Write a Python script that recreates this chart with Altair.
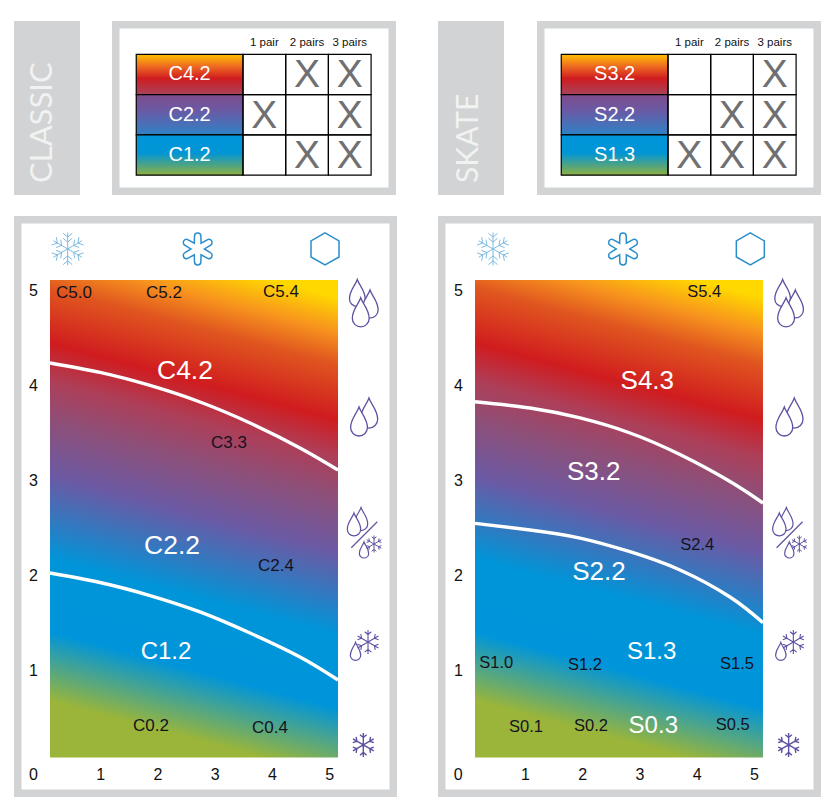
import math
import altair as alt
import pandas as pd

FONT = "Liberation Sans"
GREY = "#D1D3D4"
PURPLE = "#5F51A0"
BLUE = "#2B8ECB"
ICE = "#6FB3DE"

# ---------- wax tables ----------
table_classic_waxes = ["C4.2", "C2.2", "C1.2"]
table_classic_marks = [[0, 1, 1], [1, 0, 1], [0, 1, 1]]
table_skate_waxes = ["S3.2", "S2.2", "S1.3"]
table_skate_marks = [[0, 0, 1], [0, 1, 1], [1, 1, 1]]
pair_labels = ["1 pair", "2 pairs", "3 pairs"]

# ---------- charts: (label, x, y, font size, colour key) ----------
classic_labels = [
    ("C5.0", 0.541, 4.968, 17, "k"), ("C5.2", 2.114, 4.968, 17, "k"), ("C5.4", 4.157, 4.979, 17, "k"),
    ("C4.2", 2.48, 4.147, 26.5, "w"), ("C3.3", 3.249, 3.389, 17, "k"), ("C2.2", 2.253, 2.305, 26.5, "w"),
    ("C2.4", 4.07, 2.095, 17, "k"), ("C1.2", 2.148, 1.189, 24, "w"), ("C0.2", 1.886, 0.411, 17, "k"),
    ("C0.4", 3.965, 0.389, 17, "k"),
]
skate_labels = [
    ("S5.4", 4.132, 4.982, 16.5, "k"), ("S4.3", 3.136, 4.045, 26, "w"), ("S3.2", 2.2, 3.081, 26, "w"),
    ("S2.4", 4.01, 2.316, 16.5, "k"), ("S2.2", 2.293, 2.028, 26, "w"), ("S1.3", 3.213, 1.186, 24, "w"),
    ("S1.0", 0.499, 1.07, 16.5, "k"), ("S1.2", 2.048, 1.056, 16.5, "k"), ("S1.5", 4.703, 1.063, 16.5, "k"),
    ("S0.1", 1.017, 0.403, 16.5, "k"), ("S0.2", 2.153, 0.414, 16.5, "k"), ("S0.3", 3.241, 0.414, 24, "w"),
    ("S0.5", 4.628, 0.421, 16.5, "k"),
]

classic_curve_x = [0.122, 0.995, 1.869, 2.742, 3.616, 4.489, 5.153]
classic_upper_y = [4.232, 4.132, 3.995, 3.821, 3.6, 3.337, 3.105]
classic_lower_y = [2.021, 1.921, 1.784, 1.611, 1.389, 1.137, 0.895]
skate_curve_x = [0.127, 1.087, 1.961, 2.834, 3.707, 4.581, 5.157]
skate_upper_y = [3.824, 3.758, 3.653, 3.495, 3.268, 2.984, 2.758]
skate_lower_y = [2.544, 2.474, 2.389, 2.245, 2.053, 1.768, 1.498]

x_ticks = [0, 1, 2, 3, 4, 5]
y_ticks = [1, 2, 3, 4, 5]


# ---------- icon outlines in a -1..1 box ----------
def drop_path():
    return "M0,-1C.15,-.55 .58,-.2 .58,.42A.58,.58 0 1 1 -.58,.42C-.58,-.2 -.15,-.55 0,-1Z"


def flake_path(branches=(0.62,)):
    p = ""
    for k in range(6):
        a = math.radians(90 + 60 * k)
        p += f"M0,0L{math.cos(a):.3f},{-math.sin(a):.3f}"
        for b in branches:
            bx, by = b * math.cos(a), -b * math.sin(a)
            for s in (-1, 1):
                c = a + s * math.radians(50)
                p += f"M{bx:.3f},{by:.3f}L{bx + .36 * math.cos(c):.3f},{by - .36 * math.sin(c):.3f}"
    return p


def flower_path():
    p, rt, c0, rn = "", 0.2, 0.8, 0.42
    for k in range(6):
        a = math.radians(90 - 60 * k)
        n = math.radians(90 - 60 * k + 30)
        cx, cy = c0 * math.cos(a), -c0 * math.sin(a)
        px, py = math.sin(a), math.cos(a)
        sx, sy = cx - rt * px, cy - rt * py
        ex, ey = cx + rt * px, cy + rt * py
        nx, ny = rn * math.cos(n), -rn * math.sin(n)
        p += ("M" if k == 0 else "L") + f"{nx:.3f},{ny:.3f}"
        p += f"L{sx:.3f},{sy:.3f}A{rt},{rt} 0 1 1 {ex:.3f},{ey:.3f}"
    return p + "Z"


HEX = "M0,-1L.875,-.5L.875,.5L0,1L-.875,.5L-.875,-.5Z"
SLASH = "M1,-1L-1,1"
DROP = drop_path()
FLAKE = flake_path()
SNOW = flake_path((0.42, 0.72))
FLOWER = flower_path()

# kind, x, y, box size, colour, line width (drawn in this order)
icons = [
    (SNOW, 0.431, 5.432, 33, ICE, 0.9), (FLOWER, 2.702, 5.432, 32, BLUE, 1.5), (HEX, 4.926, 5.432, 32, BLUE, 1.5),
    (DROP, 5.49, 4.968, 27, PURPLE, 1.3), (DROP, 5.712, 4.853, 28, PURPLE, 1.3), (DROP, 5.55, 4.765, 29, PURPLE, 1.3),
    (DROP, 5.694, 3.705, 30, PURPLE, 1.3), (DROP, 5.52, 3.616, 29, PURPLE, 1.3),
    (DROP, 5.555, 2.589, 23, PURPLE, 1.2), (DROP, 5.432, 2.532, 23, PURPLE, 1.2), (SLASH, 5.612, 2.424, 26, PURPLE, 1.2),
    (DROP, 5.607, 2.263, 16, PURPLE, 1.2), (FLAKE, 5.782, 2.326, 17, PURPLE, 1.0),
    (DROP, 5.459, 1.195, 18, PURPLE, 1.2), (FLAKE, 5.677, 1.295, 24, PURPLE, 1.1),
    (FLAKE, 5.595, 0.211, 24, PURPLE, 1.4),
]

# ---------- gradients ----------
FIELD_STOPS = [
    (0.047, "#9AB53A"), (0.178, "#0095DA"), (0.318, "#0095D8"), (0.473, "#6A5AA5"), (0.582, "#8E4F78"),
    (0.658, "#AE3E58"), (0.729, "#D01C1F"), (0.835, "#E0561F"), (0.895, "#F7931E"), (0.962, "#FFD800"),
]


def grad(stops, x1=0.0, y1=0.0, x2=0.0, y2=1.0):
    return alt.Gradient(
        gradient="linear", x1=x1, y1=y1, x2=x2, y2=y2,
        stops=[alt.GradientStop(offset=o, color=c) for o, c in stops],
    )


FIELD = grad(FIELD_STOPS, 0.42, 1.0, 0.592, -0.07)
SWATCHES = [
    grad([(0, "#FFC000"), (0.3, "#EE6A22"), (0.6, "#D01C1F"), (1, "#A8435C")]),
    grad([(0, "#7E4B8B"), (0.4, "#6A5AA5"), (1, "#2E82C6")]),
    grad([(0, "#0095DA"), (0.45, "#0095D5"), (1, "#8FB040")]),
]


def frame(w, h):
    return alt.Chart(pd.DataFrame({"a": [0]})).mark_rect(fill="white", stroke=GREY, strokeWidth=7.5).encode(
        x=alt.value(3.75), x2=alt.value(w - 3.75), y=alt.value(3.75), y2=alt.value(h - 3.75)
    )


def sidebar(label, x_pos, size):
    base = alt.Chart(pd.DataFrame({"label": [label]}))
    bg = base.mark_rect(fill=GREY).encode(x=alt.value(0), x2=alt.value(66), y=alt.value(0), y2=alt.value(174))
    txt = base.mark_text(font="Lato", fontSize=size, angle=270, align="left", baseline="middle",
                         color="#F1F2F2").encode(text="label:N", x=alt.value(x_pos), y=alt.value(162))
    return (bg + txt).properties(width=66, height=174)


def table(waxes, marks):
    W, H = 284, 174
    xs = alt.Scale(domain=[-131 / 42.7, (W - 131) / 42.7], range=[0, W], nice=False, zero=False)
    ys = alt.Scale(domain=[-33.3 / 40.3, (H - 33.3) / 40.3], range=[0, H], nice=False, zero=False)
    X = lambda f: alt.X(f, type="quantitative", scale=xs, axis=None)
    Y = lambda f: alt.Y(f, type="quantitative", scale=ys, axis=None)
    layers = [frame(W, H)]
    for r, wax in enumerate(waxes):
        d = pd.DataFrame({"x": [-2.5], "x2": [0], "y": [r], "y2": [r + 1], "wax": [wax]})
        layers.append(alt.Chart(d).mark_rect(fill=SWATCHES[r], stroke="black", strokeWidth=1.2).encode(
            x=X("x"), x2="x2", y=Y("y"), y2="y2"))
        layers.append(alt.Chart(d).mark_text(font=FONT, fontSize=20, color="white").encode(
            x=alt.X("xc:Q", scale=xs, axis=None), y=alt.Y("yc:Q", scale=ys, axis=None), text="wax:N"
        ).transform_calculate(xc="-1.25", yc="datum.y + 0.5"))
    cells = pd.DataFrame([{"x": c, "x2": c + 1, "y": r, "y2": r + 1, "v": marks[r][c]}
                          for r in range(3) for c in range(3)])
    layers.append(alt.Chart(cells).mark_rect(fill="transparent", stroke="black", strokeWidth=1.2).encode(
        x=X("x"), x2="x2", y=Y("y"), y2="y2"))
    layers.append(alt.Chart(cells[cells.v == 1]).transform_calculate(
        xc="datum.x + 0.5", yc="datum.y + 0.5", t="'X'"
    ).mark_text(font=FONT, fontSize=39, color="#707072", dy=1).encode(
        x=alt.X("xc:Q", scale=xs, axis=None), y=alt.Y("yc:Q", scale=ys, axis=None), text="t:N"))
    head = pd.DataFrame({"x": [0.5, 1.5, 2.5], "y": [-0.28] * 3, "t": pair_labels})
    layers.append(alt.Chart(head).mark_text(font=FONT, fontSize=11.5, color="#111").encode(
        x=alt.X("x:Q", scale=xs, axis=None), y=alt.Y("y:Q", scale=ys, axis=None), text="t:N"))
    return alt.layer(*layers).properties(width=W, height=H)


def panel(labels, curve_x, upper, lower, x0, x_left, x_right, y_off, icon_shift):
    W, H = 383, 581
    PX, PY = 57.25, 95.0
    y0 = 549.0
    xs = alt.Scale(domain=[-x0 / PX, (W - x0) / PX], range=[0, W], nice=False, zero=False)
    ys = alt.Scale(domain=[y0 / PY, (y0 - H) / PY], range=[0, H], nice=False, zero=False)
    x_axis = alt.Axis(values=x_ticks, title=None, grid=False, domain=False, ticks=False, labelFont=FONT,
                      labelFontSize=16, labelColor="#111", labelPadding=1, offset=-(H - y0), format="d",
                      labelOffset={"condition": {"test": "datum.value == 0", "value": -10}, "value": 0},
                      labelFlush=False, labelOverlap=False, zindex=1)
    y_axis = alt.Axis(values=y_ticks, title=None, grid=False, domain=False, ticks=False, labelFont=FONT,
                      labelFontSize=16, labelColor="#111", labelPadding=0, offset=-y_off, format="d",
                      labelFlush=False, labelOverlap=False, zindex=1)
    EX = lambda: alt.X("x:Q", scale=xs, axis=x_axis)
    EY = lambda: alt.Y("y:Q", scale=ys, axis=y_axis)
    rect_d = pd.DataFrame({"x": [x_left], "x2": [x_right], "y": [0.079], "y2": [5.105]})
    field = alt.Chart(rect_d).mark_rect(fill=FIELD).encode(x=EX(), x2="x2:Q", y=EY(), y2="y2:Q")
    layers = [frame(W, H), field]
    for ser in (upper, lower):
        layers.append(alt.Chart(pd.DataFrame({"x": curve_x, "y": ser})).mark_line(
            color="white", strokeWidth=3.4, interpolate="natural").encode(x=EX(), y=EY()))
    lab = pd.DataFrame(labels, columns=["t", "x", "y", "s", "c"])
    layers.append(alt.Chart(lab).mark_text(font=FONT).encode(
        x=EX(), y=EY(), text="t:N",
        size=alt.Size("s:Q", scale=None),
        color=alt.Color("c:N", scale=alt.Scale(domain=["k", "w"], range=["#15121f", "white"]), legend=None)))
    ic = pd.DataFrame(icons, columns=["path", "x", "y", "box", "col", "sw"])
    ic["x"] = ic["x"] + icon_shift
    ic["size"] = ic["box"] ** 2
    layers.append(alt.Chart(ic).mark_point(filled=True, fill="white", opacity=1).encode(
        x=EX(), y=EY(),
        shape=alt.Shape("path:N", scale=None), size=alt.Size("size:Q", scale=None),
        stroke=alt.Stroke("col:N", scale=None), strokeWidth=alt.StrokeWidth("sw:Q", scale=None)))
    return alt.layer(*layers).resolve_scale(size="independent").properties(width=W, height=H)


left = alt.vconcat(
    alt.hconcat(sidebar("CLASSIC", 29, 31), table(table_classic_waxes, table_classic_marks), spacing=32),
    panel(classic_labels, classic_curve_x, classic_upper_y, classic_lower_y, 29.0, 0.122, 5.153, 23.5, 0.0),
    spacing=21,
)
right = alt.vconcat(
    alt.hconcat(sidebar("SKATE", 30.7, 30), table(table_skate_waxes, table_skate_marks), spacing=33),
    panel(skate_labels, skate_curve_x, skate_upper_y, skate_lower_y, 29.75, 0.127, 5.157, 24.5, 0.01),
    spacing=21,
)
chart = alt.hconcat(left, right, spacing=41).properties(
    padding={"left": 6, "top": 13, "right": 0, "bottom": 0}, background="white"
).configure_view(stroke=None)

chart.save("out.html", embed_options={"renderer": "svg", "actions": False})
